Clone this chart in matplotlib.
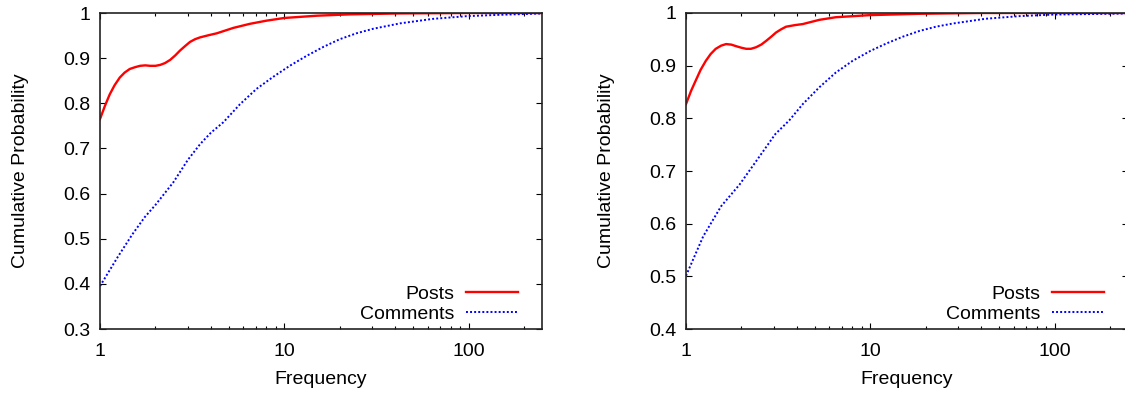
import matplotlib.pyplot as plt
from matplotlib.ticker import FixedLocator, NullFormatter

plt.rcParams['font.family'] = ['Liberation Sans', 'DejaVu Sans']

# left panel
left_x = [1, 1.065, 1.13, 1.2, 1.28, 1.36, 1.45, 1.55, 1.65, 1.76, 1.87, 2.0, 2.12, 2.25,
          2.4, 2.56, 2.72, 2.9, 3.08, 3.28, 3.49, 3.9, 4.3, 5.29, 6.5,
          8.0, 10, 15, 22.7, 42, 100, 250]
left_posts = [0.765, 0.795, 0.82, 0.84, 0.857, 0.868, 0.876, 0.880, 0.883, 0.884, 0.883,
              0.883, 0.885, 0.889, 0.896, 0.906, 0.917, 0.927, 0.936, 0.942, 0.946,
              0.951, 0.955, 0.967, 0.976, 0.983, 0.989, 0.994, 0.997, 0.999, 1.0, 1.0]

left_cx = [1, 1.25, 1.5, 1.75, 2.0, 2.5, 3.0, 3.5, 4.0, 4.67, 5.75, 7.07, 8.73, 10.7,
           13.2, 16.3, 20, 24.6, 30.3, 42.4, 64, 97.5, 148, 250]
left_comments = [0.395, 0.46, 0.51, 0.548, 0.575, 0.625, 0.675, 0.71, 0.735, 0.758, 0.798,
                 0.832, 0.859, 0.883, 0.905, 0.925, 0.942, 0.955, 0.965, 0.977, 0.987,
                 0.993, 0.996, 0.999]

# right panel
right_x = [1, 1.065, 1.13, 1.2, 1.28, 1.36, 1.45, 1.55, 1.65, 1.76, 1.87, 2.0, 2.12, 2.25,
           2.4, 2.56, 2.72, 2.9, 3.08, 3.28, 3.49, 3.9, 4.3, 5.29, 6.5,
           10, 18.5, 40, 100, 250]
right_posts = [0.827, 0.852, 0.872, 0.892, 0.909, 0.922, 0.932, 0.938, 0.941, 0.940, 0.937,
               0.934, 0.932, 0.932, 0.935, 0.940, 0.947, 0.955, 0.963, 0.969, 0.974,
               0.977, 0.979, 0.987, 0.992, 0.996, 0.9985, 1.0, 1.0, 1.0]

right_cx = [1, 1.24, 1.55, 1.95, 2.44, 3.05, 3.63, 4.3, 5.29, 6.5, 8.0, 10, 12.2, 15,
            18.5, 22.7, 28, 42, 64, 98, 250]
right_comments = [0.501, 0.576, 0.633, 0.674, 0.722, 0.770, 0.796, 0.827, 0.859, 0.887,
                  0.909, 0.928, 0.942, 0.955, 0.966, 0.974, 0.980, 0.989, 0.994, 0.997,
                  0.999]

panels = [
    (left_x, left_posts, left_cx, left_comments, (0.3, 1.0),
     [0.3, 0.4, 0.5, 0.6, 0.7, 0.8, 0.9, 1.0]),
    (right_x, right_posts, right_cx, right_comments, (0.4, 1.0),
     [0.4, 0.5, 0.6, 0.7, 0.8, 0.9, 1.0]),
]

fig = plt.figure(figsize=(11.25, 3.94), dpi=100)
lefts = [100 / 1125, 686 / 1125]
fs = 14

for left, (px, posts, cx, comments, ylim, yticks) in zip(lefts, panels):
    ax = fig.add_axes([left, 65 / 394, 442 / 1125, 316 / 394])
    ax.plot(px, posts, color='#ff0000', lw=1.7, label='Posts')
    ax.plot(cx, comments, color='#0000ff', lw=1.4, linestyle=(0, (1, 1.1)), label='Comments')
    ax.set_xscale('log')
    ax.set_xlim(1, 250)
    ax.set_ylim(*ylim)
    ax.set_xticks([1, 10, 100])
    ax.set_xticklabels(['1', '10', '100'])
    ax.xaxis.set_minor_locator(FixedLocator([m * d for d in (1, 10, 100) for m in range(2, 10)]))
    ax.xaxis.set_minor_formatter(NullFormatter())
    ax.set_yticks(yticks)
    ax.set_yticklabels(['%g' % v for v in yticks])
    ax.tick_params(which='major', direction='in', length=4, width=0.8, top=True, right=True,
                   labelsize=fs)
    ax.tick_params(axis='x', which='major', pad=10)
    ax.tick_params(axis='y', which='major', pad=7)
    ax.tick_params(which='minor', direction='in', length=2.2, width=0.8, top=True, right=True)
    for s in ax.spines.values():
        s.set_linewidth(1.2)
        s.set_color('#222222')
    ax.set_xlabel('Frequency', fontsize=fs, labelpad=8)
    ax.set_ylabel('Cumulative Probability', fontsize=fs)
    ax.yaxis.set_label_coords(-0.16, 0.5)
    ax.legend(loc='lower right', bbox_to_anchor=(0.946, 0.02), markerfirst=False,
              frameon=False, fontsize=fs, handlelength=2.7, labelspacing=0.12,
              borderaxespad=0, borderpad=0, handletextpad=0.6)

fig.savefig('out.png', dpi=100)
